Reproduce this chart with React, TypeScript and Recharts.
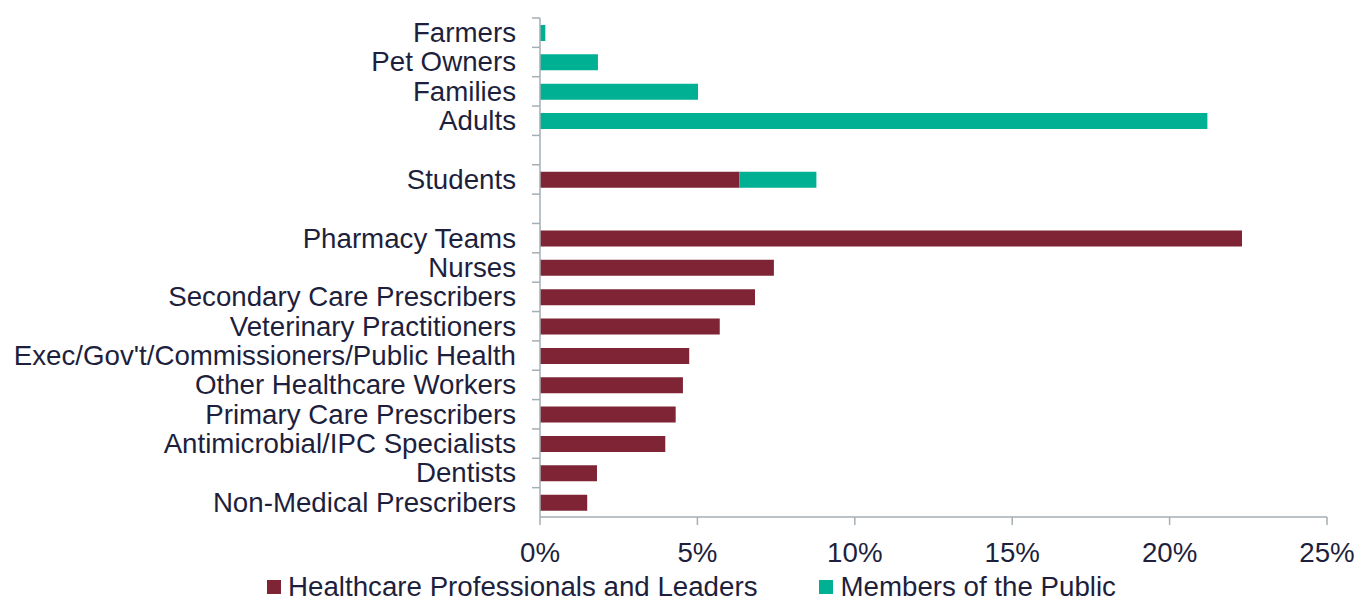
import React from 'react';
import { BarChart, Bar, XAxis, YAxis, Legend } from 'recharts';

const categories = [
  'Farmers',
  'Pet Owners',
  'Families',
  'Adults',
  '',
  'Students',
  ' ',
  'Pharmacy Teams',
  'Nurses',
  'Secondary Care Prescribers',
  'Veterinary Practitioners',
  "Exec/Gov't/Commissioners/Public Health",
  'Other Healthcare Workers',
  'Primary Care Prescribers',
  'Antimicrobial/IPC Specialists',
  'Dentists',
  'Non-Medical Prescribers',
];

const professionals = [0, 0, 0, 0, 0, 6.33, 0, 22.3, 7.43, 6.83, 5.71, 4.74, 4.54, 4.31, 3.98, 1.81, 1.5];
const publicMembers = [0.17, 1.84, 5.02, 21.2, 0, 2.45, 0, 0, 0, 0, 0, 0, 0, 0, 0, 0, 0];

const xTicks = [0, 5, 10, 15, 20, 25];

const MAROON = '#7F2434';
const TEAL = '#00B092';
const TEXT = '#1E1F3D';
const AXIS = '#A3AEB6';
const FONT = '"Liberation Sans", Arial, sans-serif';
const FS = 27.7;

const data = categories.map((name, i) => ({
  name,
  professionals: professionals[i],
  publicMembers: publicMembers[i],
}));

const Y_TICK_SIZE = 8;
const Y_TICK_MARGIN = 16;

function CategoryTick(props: any) {
  const { x, y, payload } = props;
  const half = payload && payload.offset ? payload.offset : 14.67;
  const axisX = x + Y_TICK_SIZE + Y_TICK_MARGIN;
  return (
    <g>
      <line x1={axisX - Y_TICK_SIZE} x2={axisX} y1={y - half} y2={y - half} stroke={AXIS} strokeWidth={1.5} />
      <text x={x} y={y} dy="0.34em" textAnchor="end" fill={TEXT} fontSize={FS} fontFamily={FONT}>
        {payload.value}
      </text>
    </g>
  );
}

function LegendContent() {
  const items = [
    { label: 'Healthcare Professionals and Leaders', color: MAROON },
    { label: 'Members of the Public', color: TEAL },
  ];
  return (
    <div style={{ display: 'flex', justifyContent: 'center', alignItems: 'center', gap: 62, paddingLeft: 56, height: 28 }}>
      {items.map((it) => (
        <div key={it.label} style={{ display: 'flex', alignItems: 'center' }}>
          <span style={{ width: 14, height: 14, background: it.color, display: 'inline-block', marginRight: 7 }} />
          <span style={{ fontSize: FS, color: TEXT, fontFamily: FONT, lineHeight: '28px' }}>{it.label}</span>
        </div>
      ))}
    </div>
  );
}

export default function App() {
  return (
    <div style={{ position: 'absolute', left: 0, top: 0, background: '#fff' }}>
      <BarChart
        width={1359}
        height={601}
        data={data}
        layout="vertical"
        margin={{ top: 18, right: 32, bottom: 0, left: 0 }}
      >
        <XAxis
          type="number"
          domain={[0, 25]}
          ticks={xTicks}
          tickFormatter={(v: number) => `${v}%`}
          axisLine={{ stroke: AXIS, strokeWidth: 1.5 }}
          tickLine={{ stroke: AXIS, strokeWidth: 1.5 }}
          tickSize={8}
          tickMargin={17}
          height={56}
          tick={{ fill: TEXT, fontSize: FS, fontFamily: FONT }}
        />
        <YAxis
          type="category"
          dataKey="name"
          width={540}
          interval={0}
          axisLine={{ stroke: AXIS, strokeWidth: 1.5 }}
          tickLine={false}
          tickSize={Y_TICK_SIZE}
          tickMargin={Y_TICK_MARGIN}
          tick={<CategoryTick />}
        />
        <Legend verticalAlign="bottom" content={<LegendContent />} wrapperStyle={{ height: 28, bottom: 0 }} />
        <Bar dataKey="professionals" stackId="a" fill={MAROON} barSize={16} isAnimationActive={false} />
        <Bar dataKey="publicMembers" stackId="a" fill={TEAL} barSize={16} isAnimationActive={false} />
      </BarChart>
    </div>
  );
}
